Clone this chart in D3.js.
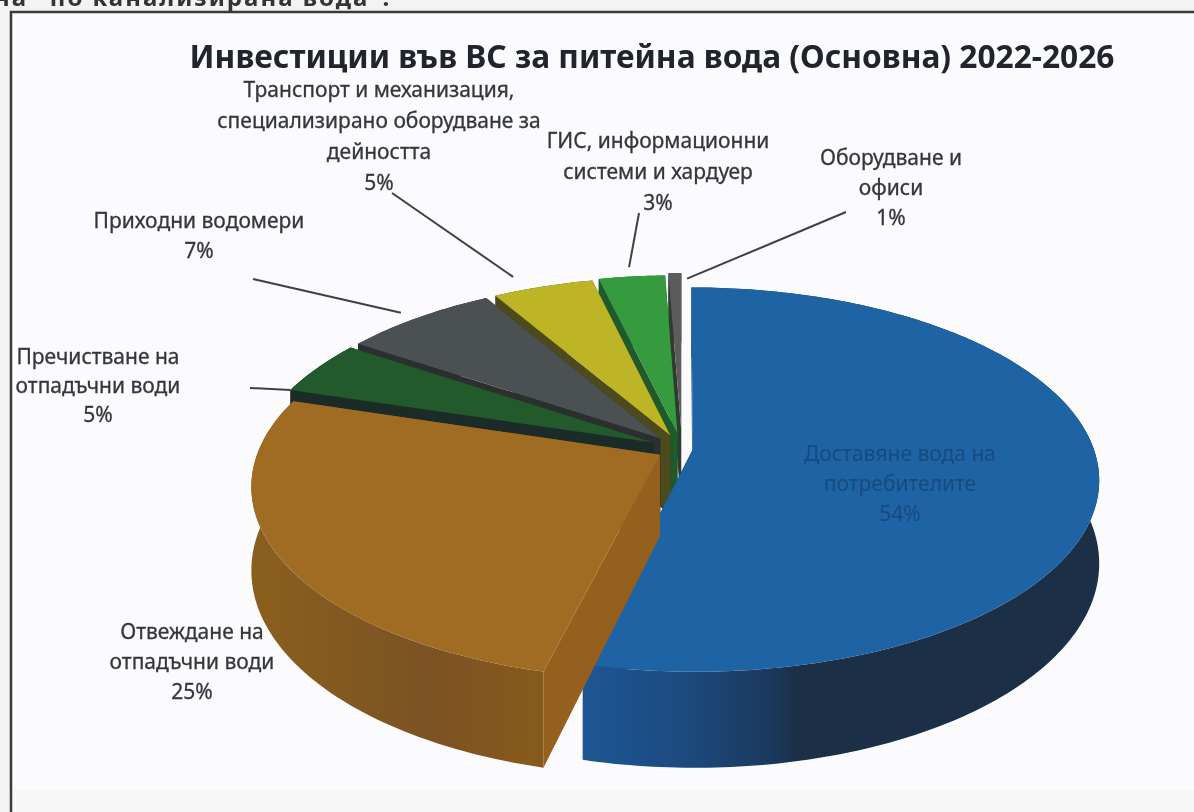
<!DOCTYPE html>
<html>
<head>
<meta charset="utf-8">
<script src="https://d3js.org/d3.v7.min.js"></script>
<style>
  html, body { margin: 0; padding: 0; background: #f3f3f4; overflow: hidden; }
  svg { display: block; filter: blur(0.6px); }
  text { font-family: "Noto Sans", sans-serif; }
</style>
</head>
<body>
<script>
// Data (share of the pie, %)
const categories = [
  "Доставяне вода на потребителите",
  "Отвеждане на отпадъчни води",
  "Пречистване на отпадъчни води",
  "Приходни водомери",
  "Транспорт и механизация, специализирано оборудване за дейността",
  "ГИС, информационни системи и хардуер",
  "Оборудване и офиси"
];
const values = [53.8, 26.0, 4.6, 7.2, 4.7, 3.1, 0.6];
const percentLabels = ["54%", "25%", "5%", "7%", "5%", "3%", "1%"];
const labelLines = [
  ["Доставяне вода на", "потребителите"],
  ["Отвеждане на", "отпадъчни води"],
  ["Пречистване на", "отпадъчни води"],
  ["Приходни водомери"],
  ["Транспорт и механизация,", "специализирано оборудване за", "дейността"],
  ["ГИС, информационни", "системи и хардуер"],
  ["Оборудване и", "офиси"]
];

// slice styling, same order as the values
const topColors = ["#1e63a3", "#a06c24", "#235a2b", "#4b5152", "#bdb526", "#369a3e", "#5c5c5c"];
const wallColors = ["#1c3f6a", "#7f5520", "#1b2c28", "#2b2f2d", "#4d4a1c", "#1f5a2a", "#2f3a30"];
const explode = [0.027, 0.063, 0.08, 0.08, 0.08, 0.085, 0.1];

// label layout: centre x, y of first line centre
const labelX = [900, 192, 98, 199, 379, 658, 891];
const labelY = [454, 632, 357, 221, 90, 141, 158];
const labelGap = [30, 30, 29, 30, 31, 31, 30];
// leader lines: start near the label, end at fraction t across the slice at radius r
const leaderFrom = [null, null, [250, 388], [253, 279], [392, 193], [639, 213], [846, 212]];
const leaderT = [null, null, 0, 0.47, 0.32, 0.5, 1.46];
const leaderR = [null, null, 1, 1.06, 1.1, 1.07, 0.96];

const width = 1194, height = 812;

// perspective of the tilted pie
const cx = 682, cy = 449, R = 401, K = 187.3, persp = 0.156, depth = 81;

function project(angle, r, slice, drop) {
  const mid = (slice.startAngle + slice.endAngle) / 2,
      e = explode[slice.index],
      X = r * Math.sin(angle) + e * Math.sin(mid),
      Y = -r * Math.cos(angle) - e * Math.cos(mid),
      s = 1 / (1 - persp * Y);
  return [cx + R * X * s, cy + K * Y * s + drop * depth * s];
}

const svg = d3.select("body").append("svg")
    .attr("width", width)
    .attr("height", height);

const defs = svg.append("defs");

// gradients on the two big outer walls
const blueWall = defs.append("linearGradient")
    .attr("id", "blueWall")
    .attr("gradientUnits", "userSpaceOnUse")
    .attr("x1", 580).attr("x2", 1100).attr("y1", 0).attr("y2", 0);
blueWall.append("stop").attr("offset", 0).attr("stop-color", "#1d5795");
blueWall.append("stop").attr("offset", 0.2).attr("stop-color", "#1c4a7f");
blueWall.append("stop").attr("offset", 0.36).attr("stop-color", "#1b3a5f");
blueWall.append("stop").attr("offset", 0.42).attr("stop-color", "#1b2f47");
blueWall.append("stop").attr("offset", 1).attr("stop-color", "#1b2f47");

const brownWall = defs.append("linearGradient")
    .attr("id", "brownWall")
    .attr("gradientUnits", "userSpaceOnUse")
    .attr("x1", 255).attr("x2", 545).attr("y1", 0).attr("y2", 0);
brownWall.append("stop").attr("offset", 0).attr("stop-color", "#8a5f1d");
brownWall.append("stop").attr("offset", 0.6).attr("stop-color", "#7c5224");
brownWall.append("stop").attr("offset", 1).attr("stop-color", "#875a1b");

// page and chart frame
svg.append("text")
    .attr("x", -6).attr("y", 6)
    .attr("font-size", 24).attr("font-weight", 700)
    .attr("letter-spacing", 2).attr("fill", "#333")
    .text("на \"по канализирана вода\".");

svg.append("rect")
    .attr("x", 11).attr("y", 12)
    .attr("width", width).attr("height", height)
    .attr("fill", "#fbfbfd")
    .attr("stroke", "#3a3a3a")
    .attr("stroke-width", 2.5);

svg.append("rect")
    .attr("x", 13).attr("y", 790)
    .attr("width", width).attr("height", 22)
    .attr("fill", "#f6f6f6");

svg.append("text")
    .attr("x", 652).attr("y", 68)
    .attr("text-anchor", "middle")
    .attr("font-size", 31.7).attr("font-weight", 700)
    .attr("fill", "#20242c")
    .text("Инвестиции във ВС за питейна вода (Основна) 2022-2026");

const pie = d3.pie().sort(null).startAngle(0).endAngle(2 * Math.PI);
const slices = pie(values);
const line = d3.line();

function arcPoints(slice, drop, reverse) {
  const n = Math.max(4, Math.ceil((slice.endAngle - slice.startAngle) * 60));
  const pts = d3.range(n + 1).map(function(i) {
    const a = slice.startAngle + (slice.endAngle - slice.startAngle) * i / n;
    return project(a, 1, slice, drop);
  });
  return reverse ? pts.reverse() : pts;
}

// back to front: order by how far down the middle of the slice lies
const order = slices.slice().sort(function(a, b) {
  return d3.ascending(project((a.startAngle + a.endAngle) / 2, 0.6, a, 0)[1],
      project((b.startAngle + b.endAngle) / 2, 0.6, b, 0)[1]);
});

const pieGroup = svg.append("g");

order.forEach(function(d) {
  const g = pieGroup.append("g");
  const wall = wallColors[d.index];

  // flat side walls
  [d.startAngle, d.endAngle].forEach(function(a) {
    g.append("path")
        .attr("d", line([project(0, 0, d, 0), project(a, 1, d, 0), project(a, 1, d, 1), project(0, 0, d, 1)]) + "Z")
        .attr("fill", d.index === 1 ? "#955f1e" : wall);
  });

  // outer curved wall
  const outerFill = d.index === 0 ? "url(#blueWall)" : d.index === 1 ? "url(#brownWall)" : wall;
  g.append("path")
      .attr("d", line(arcPoints(d, 0).concat(arcPoints(d, 1, true))) + "Z")
      .attr("fill", outerFill);

  // top face
  g.append("path")
      .attr("d", line([project(0, 0, d, 0)].concat(arcPoints(d, 0))) + "Z")
      .attr("fill", topColors[d.index]);
});

// leader lines
slices.forEach(function(d) {
  const from = leaderFrom[d.index];
  if (!from) return;
  const a = d.startAngle + (d.endAngle - d.startAngle) * leaderT[d.index];
  svg.append("path")
      .attr("d", line([from, project(a, leaderR[d.index], d, 0)]))
      .attr("fill", "none")
      .attr("stroke", "#3d4144")
      .attr("stroke-width", 2);
});

// data labels
slices.forEach(function(d) {
  const rows = labelLines[d.index].concat([percentLabels[d.index]]);
  svg.append("g").selectAll("text")
      .data(rows)
      .enter()
      .append("text")
      .attr("x", labelX[d.index])
      .attr("y", function(t, i) { return labelY[d.index] + i * labelGap[d.index]; })
      .attr("dy", "0.35em")
      .attr("text-anchor", "middle")
      .attr("font-size", 21)
      .attr("fill", d.index === 0 ? "#174a80" : "#33373c")
      .attr("stroke", d.index === 0 ? "none" : "#33373c")
      .attr("stroke-width", 0.3)
      .attr("data-category", categories[d.index])
      .text(function(t) { return t; });
});
</script>
</body>
</html>
